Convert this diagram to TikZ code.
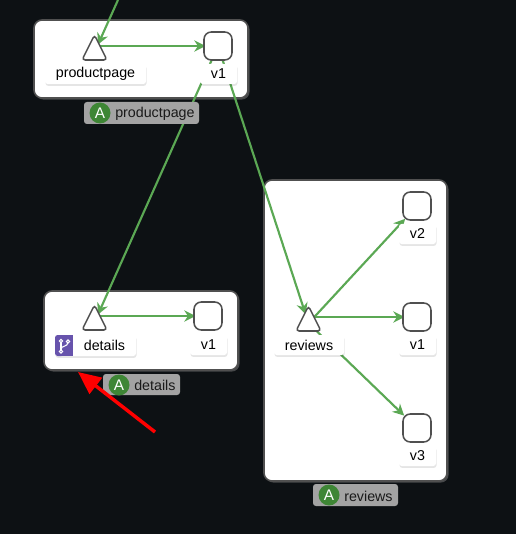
\documentclass[tikz,border=0pt]{standalone}
\usepackage{fontspec}
\setmainfont{Liberation Sans}
\usetikzlibrary{arrows.meta,shapes.geometric,shadows}
\definecolor{pagebg}{HTML}{0D1114}
\definecolor{edgegreen}{HTML}{5BA854}
\definecolor{nodeline}{HTML}{505050}
\definecolor{badgegray}{HTML}{A3A3A3}
\definecolor{appgreen}{HTML}{3E8635}
\definecolor{iconpurple}{HTML}{6753AC}
\pgfdeclarelayer{boxes}
\pgfdeclarelayer{edgelayer}
\pgfsetlayers{boxes,edgelayer,main}
\tikzset{
  sized/.style 2 args={minimum width=#1*0.75pt,minimum height=#2*0.75pt,inner sep=0pt,outer sep=0pt},
  groupbox/.style={draw=nodeline,line width=1.2pt,fill=white,rounded corners=6pt,
    drop shadow={shadow xshift=1.2pt,shadow yshift=-1.2pt,opacity=.5,fill=gray}},
  svc/.style={isosceles triangle,shape border rotate=90,isosceles triangle stretches,
    minimum width=25*0.75pt,minimum height=25*0.75pt,inner sep=0pt,outer sep=0pt,
    draw=nodeline,line width=1.15pt,fill=white,rounded corners=2.4pt,anchor=apex},
  wl/.style={sized={28}{28},draw=nodeline,line width=1.15pt,fill=white,rounded corners=5.5pt},
  lab/.style={fill=white,rounded corners=2pt,font=\fontsize{10.7}{12}\selectfont,text=black,
    drop shadow={shadow xshift=0.4pt,shadow yshift=-1.4pt,opacity=.1,fill=black}},
  badge/.style={fill=badgegray,rounded corners=2.2pt},
  badgetext/.style={anchor=west,inner sep=0pt,font=\fontsize{10.7}{12}\selectfont,text=black!90},
  appdot/.style={circle,fill=appgreen,minimum size=21*0.75pt,inner sep=0pt,text=white,font=\fontsize{11.5}{12}\selectfont},
  flow/.style={draw=edgegreen,line width=1.6pt,shorten >=-1.2pt,-{Stealth[length=8.5pt,width=8.5pt,inset=2.8pt]}},
}
\begin{document}
\begin{tikzpicture}[x=0.75pt,y=-0.75pt]
\useasboundingbox (0,0) rectangle (516,534);
\begin{pgfonlayer}{boxes}
\fill[pagebg] (0,0) rectangle (516,534);
\node[groupbox,sized={214}{78}] (ppbox) at (141,59) {};
\node[groupbox,sized={194}{79}] (detbox) at (141,330.5) {};
\node[groupbox,sized={183}{301}] (revbox) at (355.5,330.5) {};
\end{pgfonlayer}

% workloads and services
\node[svc] (ppT) at (94.5,35) {};
\node[wl] (ppV) at (218,46) {};
\node[svc] (detT) at (94.5,305) {};
\node[wl] (detV) at (208,316) {};
\node[svc] (revT) at (308.5,306) {};
\node[wl] (revV2) at (417,206) {};
\node[wl] (revV1) at (417,317) {};
\node[wl] (revV3) at (417,428) {};
\coordinate (ingress) at (118,0);
\coordinate (redtail) at (155,432);
\coordinate (redtip) at (78,372);

\begin{pgfonlayer}{edgelayer}
\draw[flow] (ingress) -- (ppT);
\draw[flow] (ppV.west -| ppT.center) -- (ppV.west);
\draw[flow] (ppV) -- (detT);
\draw[flow] (ppV) -- (revT);
\draw[flow] (detV.west -| detT.center) -- (detV.west);
\draw[flow] (revT) -- (revV2);
\draw[flow] (revV1.west -| revT.center) -- (revV1.west);
\draw[flow] (revT) -- (revV3);
\end{pgfonlayer}

% labels
\node[lab,sized={101}{20}] (ppL) at (95.5,74) {productpage};
\node[lab,sized={37}{20}] (ppVL) at (218.5,74) {v1};
\node[lab,sized={81}{21}] (detL) at (95.5,345.5) {\hspace*{13.5pt}details};
\node[lab,sized={37}{20}] (detVL) at (208.5,345) {v1};
\node[lab,sized={70}{20}] (revL) at (309,345) {reviews};
\node[lab,sized={37}{20}] (revV2L) at (417.5,234) {v2};
\node[lab,sized={37}{20}] (revV1L) at (417.5,345) {v1};
\node[lab,sized={37}{20}] (revV3L) at (417.5,456) {v3};

% branch icon on the details label
\fill[iconpurple,rounded corners=2pt] (55,335) rectangle (64,356);
\fill[iconpurple] (60,335) rectangle (73,356);
\begin{scope}[white,line width=0.8pt]
\draw (61,341.5) -- (61,351);
\draw (68,342) .. controls (68,347.5) and (61,345) .. (61,349.5);
\draw[fill=iconpurple] (61,341) circle (1.3pt);
\draw[fill=iconpurple] (61,351.5) circle (1.3pt);
\draw[fill=iconpurple] (68,341.5) circle (1.3pt);
\end{scope}

% app badges
\node[badge,sized={115}{22}] (ppB) at (141.5,113) {};
\node[appdot] (ppA) at (100,113) {A};
\node[badgetext] (ppBT) at (115,114) {productpage};
\node[badge,sized={77}{21}] (detB) at (141.5,384.5) {};
\node[appdot] (detA) at (119,385) {A};
\node[badgetext] (detBT) at (134,385) {details};
\node[badge,sized={85}{22}] (revB) at (355.5,495) {};
\node[appdot] (revA) at (329,495) {A};
\node[badgetext] (revBT) at (344,496) {reviews};

% red pointer
\draw[red,line width=2.6pt,-{Stealth[length=17pt,width=15pt,inset=0pt]}] (redtail) -- (redtip);
\end{tikzpicture}
\end{document}
